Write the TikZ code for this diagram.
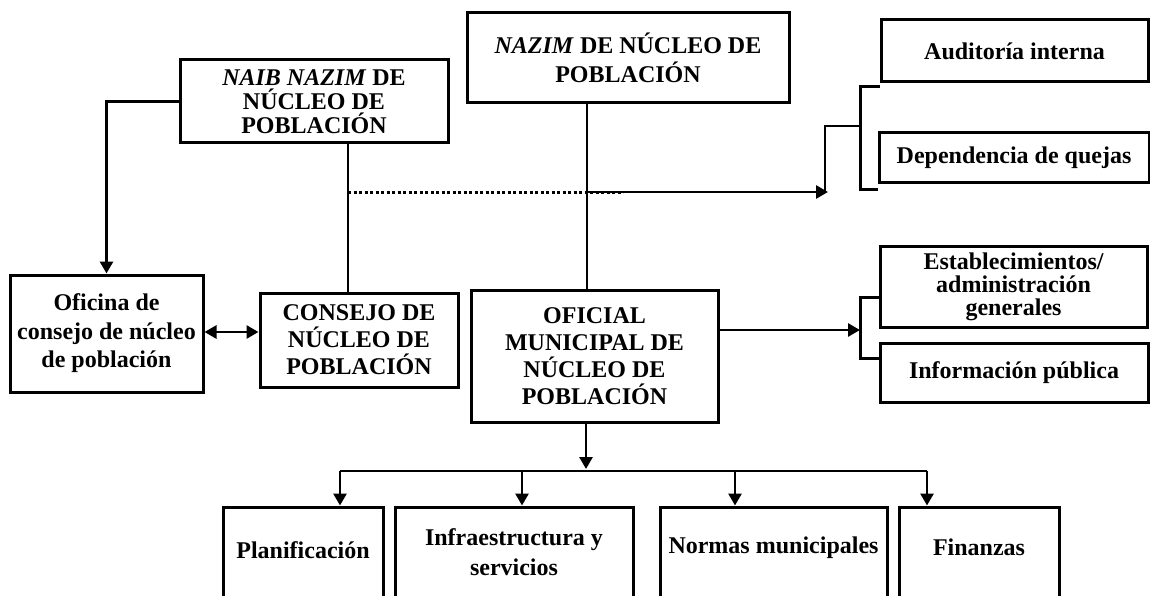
\documentclass[tikz,border=0pt]{standalone}
\usepackage{fontspec}
\setmainfont{Liberation Serif}
\usetikzlibrary{arrows.meta,calc}
\begin{document}
\begin{tikzpicture}[x=1pt,y=-1pt,
  box/.style={draw,line width=3pt,inner sep=0pt,align=center},
  txt/.style={inner sep=0pt,align=center},
  conn/.style={line width=2.8pt},
  arr/.style={conn,-{Triangle[length=12pt,width=13pt]}},
  darr/.style={conn,{Triangle[length=12pt,width=13pt]}-{Triangle[length=12pt,width=13pt]}},
  dots/.style={line width=3pt,dash pattern=on 3pt off 2.5pt}]
\useasboundingbox (0,0) rectangle (1150,596);
\clip (0,0) rectangle (1150,596);
\newcommand{\fs}[1]{\bfseries\fontsize{24}{#1}\selectfont}
% top boxes
\node[box,minimum width=268pt,minimum height=83pt,font=\fs{24}] (naib) at (314,101.5)
  {\textit{NAIB NAZIM} DE\\NÚCLEO DE\\POBLACIÓN};
\node[box,minimum width=322pt,minimum height=90pt,font=\fs{29}] (nazim) at (628,58)
  {\textit{NAZIM} DE NÚCLEO DE\\POBLACIÓN};
\node[box,minimum width=267pt,minimum height=62pt,font=\fs{24}] (aud) at (1014.5,51) {Auditoría interna};
\node[box,minimum width=270pt,minimum height=50pt,font=\fs{24}] (dep) at (1014,158) {Dependencia de quejas};
\node[box,minimum width=267pt,minimum height=81pt,font=\fs{23}] (est) at (1013.5,286.5)
  {Establecimientos/\\administración\\generales};
\node[box,minimum width=268pt,minimum height=59pt,font=\fs{24}] (info) at (1014,372.5) {Información pública};
% middle boxes
\node[box,minimum width=193pt,minimum height=117pt,font=\fs{28.5}] (ofi) at (106.5,333.5)
  {Oficina de\\consejo de núcleo\\de población};
\node[box,minimum width=198pt,minimum height=94pt,font=\fs{27}] (cons) at (359,340)
  {CONSEJO DE\\NÚCLEO DE\\POBLACIÓN};
\node[box,minimum width=247pt,minimum height=132pt,font=\fs{27}] (ofm) at (594.5,356)
  {OFICIAL\\MUNICIPAL DE\\NÚCLEO DE\\POBLACIÓN};
% bottom boxes (open at the bottom of the picture)
\node[box,minimum width=160pt,minimum height=113pt] (plan) at (303,563.5) {};
\node[box,minimum width=238pt,minimum height=113pt] (infra) at (514,563.5) {};
\node[box,minimum width=227pt,minimum height=113pt] (norm) at (773.5,563.5) {};
\node[box,minimum width=160pt,minimum height=113pt] (fin) at (979,563.5) {};
\node[txt,font=\fs{24}] (tplan) at (303,550) {Planificación};
\node[txt,font=\fs{30}] (tinfra) at (514,552) {Infraestructura y\\servicios};
\node[txt,font=\fs{24}] (tnorm) at (773.5,548) {Normas municipales};
\node[txt,font=\fs{24}] (tfin) at (979,547) {Finanzas};
% coordinates
\coordinate (vx) at (348,0);
\coordinate (vz) at (587,0);
\coordinate (d0) at (348,192);
\coordinate (d1) at (623,192);
\coordinate (d2) at (828,192);
\coordinate (u0) at (825,192);
\coordinate (u1) at (825,126);
\coordinate (bk1) at (862,126);
\coordinate (m0) at (718,330);
\coordinate (m1) at (860,330);
\coordinate (bus) at (586,471);
\coordinate (b1) at (340,471);
\coordinate (b2) at (522,471);
\coordinate (b3) at (735,471);
\coordinate (b4) at (927,471);
% connectors
\draw[arr] (naib.west) -| (ofi.north);
\draw[conn] (naib.south -| vx) -- (cons.north -| vx);
\draw[conn] (nazim.south -| vz) -- (ofm.north -| vz);
\draw[dots] (d0) -- (d1);
\draw[arr] (vz |- d0) -- (d2);
\draw[conn] (u0) -- (u1) -- (bk1);
\draw[conn] ($(aud.south west)+(0,3)$) -| ($(dep.south west)+(-17,5)$) -- ($(dep.south west)+(0,5)$);
\draw[darr] (ofi.east |- 0,332) -- (cons.west |- 0,332);
\draw[arr] (m0) -- (m1);
\draw[conn] ($(est.west)+(0,11)$) -| ($(info.west)+(-18,-14)$) -- ($(info.west)+(0,-14)$);
\draw[arr] (ofm.south -| bus) -- ($(bus)+(0,-2)$);
\draw[conn] (b1) -- (b4);
\draw[arr] (b1) -- (b1 |- plan.north);
\draw[arr] (b2) -- (b2 |- infra.north);
\draw[arr] (b3) -- (b3 |- norm.north);
\draw[arr] (b4) -- (b4 |- fin.north);
\end{tikzpicture}
\end{document}
